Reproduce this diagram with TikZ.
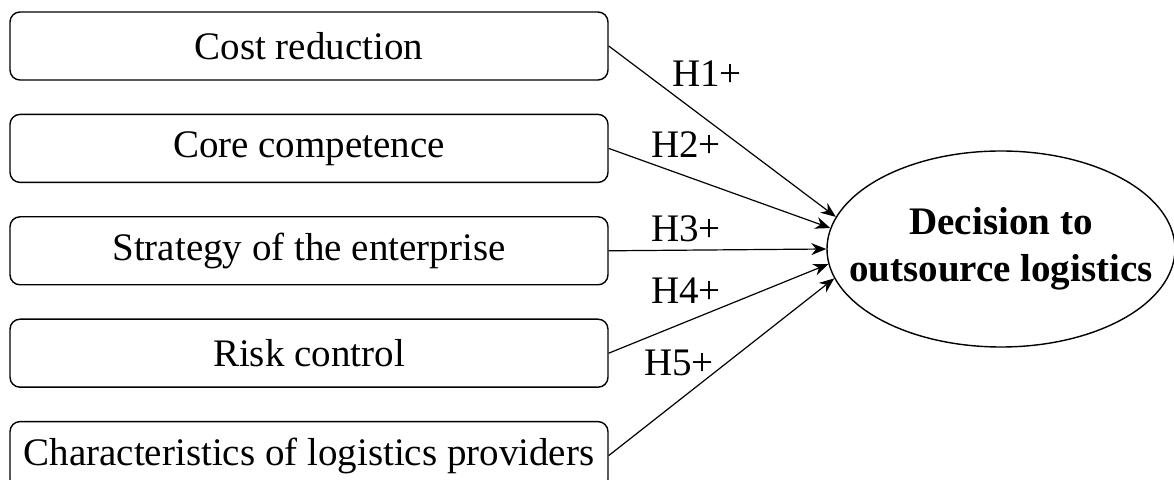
\documentclass[tikz,border=0pt]{standalone}
\usepackage{fontspec}
\setmainfont{Liberation Serif}
\usetikzlibrary{arrows.meta,shapes.geometric,positioning}

\begin{document}
\begin{tikzpicture}[x=0.5pt,y=-0.5pt]
\tikzstyle{every node}+=[inner sep=0pt]
\tikzstyle{factor}=[draw, line width=0.7pt, rounded corners=5pt, minimum width=299pt, minimum height=34pt, font=\fontsize{19.5}{23.5}\selectfont]
\tikzstyle{hyp}=[font=\fontsize{19.5}{23.5}\selectfont]
\tikzstyle{arr}=[line width=0.6pt, -{Stealth[length=7.5pt,width=6pt]}]
\useasboundingbox (0,0) rectangle (1174,480);
% factors
\node [factor] (cost) at (309,46) {Cost reduction};
\node [factor, below=16.5pt of cost] (core) {Core competence};
\node [factor, below=16.5pt of core] (strat) {Strategy of the enterprise};
\node [factor, below=16.5pt of strat] (risk) {Risk control};
\node [factor, below=16.5pt of risk] (prov) {Characteristics of logistics providers};
% decision
\node [draw, ellipse, line width=0.7pt, minimum width=174pt, minimum height=98pt] (dec) at (1001,249) {};
\node [align=center, font=\fontsize{19.5}{23.5}\selectfont\bfseries] (dectext) at (dec.center) {Decision to\\outsource logistics};
% hypotheses
\draw [arr] (cost.east) -- (dec.169.2);
\draw [arr] (core.east) -- (dec.173.7);
\draw [arr] (strat.east) -- (dec.180);
\draw [arr] (risk.east) -- (dec.185.6);
\draw [arr] (prov.east) -- (dec.190.5);
\node [hyp] (h1) at (707,74) {H1+};
\node [hyp] (h2) at (686,145) {H2+};
\node [hyp] (h3) at (686,229) {H3+};
\node [hyp] (h4) at (686,291) {H4+};
\node [hyp] (h5) at (679,363) {H5+};
\end{tikzpicture}
\end{document}
